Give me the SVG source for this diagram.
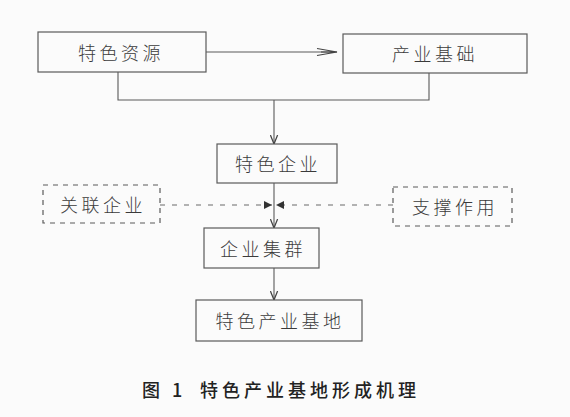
<svg xmlns="http://www.w3.org/2000/svg" width="570" height="417" viewBox="0 0 570 417">
<defs>
<style>
.box{fill:none;stroke:#5a5a5a;stroke-width:1.2}
.dbox{fill:none;stroke:#5a5a5a;stroke-width:1.2;stroke-dasharray:5 5}
.ln{fill:none;stroke:#5a5a5a;stroke-width:1.1}
.dl{fill:none;stroke:#6a6a6a;stroke-width:1.1;stroke-dasharray:5 7}
.t{font-family:"Noto Sans CJK SC","Noto Sans CJK JP",sans-serif;font-size:18px;fill:#3a3a3a;letter-spacing:3.5px;text-anchor:middle;dominant-baseline:central;font-weight:300}
.cap{font-family:"Noto Sans CJK SC",sans-serif;font-size:18px;fill:#222;letter-spacing:4px;dominant-baseline:central;font-weight:500}
</style>
<marker id="ah" viewBox="0 0 10 10" refX="10" refY="5" markerWidth="9" markerHeight="9" orient="auto" markerUnits="userSpaceOnUse">
<path d="M0,1 L10,5 L0,9" fill="none" stroke="#444" stroke-width="1.4"/>
</marker>
<marker id="ah2" viewBox="0 0 20 10" refX="20" refY="5" markerWidth="22" markerHeight="10" orient="auto" markerUnits="userSpaceOnUse">
<path d="M0,1.5 L20,5 L0,8.5 M4,5 L20,5" fill="none" stroke="#444" stroke-width="1.2"/>
</marker>
<marker id="tri" viewBox="0 0 10 10" refX="10" refY="5" markerWidth="8" markerHeight="8" orient="auto" markerUnits="userSpaceOnUse">
<path d="M0,0 L10,5 L0,10 Z" fill="#333"/>
</marker>
</defs>
<rect width="570" height="417" fill="#fbfbfb"/>
<g id="connectors">
<line class="ln" x1="206" y1="52" x2="337" y2="52" marker-end="url(#ah2)"/>
<polyline class="ln" points="118,72 118,100 429,100 429,73"/>
<line class="ln" x1="274" y1="100" x2="274" y2="144" marker-end="url(#ah)"/>
<line class="ln" x1="274" y1="183" x2="274" y2="228" marker-end="url(#ah)"/>
<line class="ln" x1="274" y1="268" x2="274" y2="300" marker-end="url(#ah)"/>
<line class="dl" x1="160" y1="205" x2="272" y2="205" marker-end="url(#tri)"/>
<line class="dl" x1="393" y1="205" x2="276" y2="205" marker-end="url(#tri)"/>
</g>
<g id="n1"><rect class="box" x="38" y="32" width="168" height="40"/><text class="t" x="121" y="52">特色资源</text></g>
<g id="n2"><rect class="box" x="343" y="34" width="184" height="39"/><text class="t" x="435" y="53">产业基础</text></g>
<g id="n3"><rect class="box" x="217" y="144" width="120" height="39"/><text class="t" x="278" y="163">特色企业</text></g>
<g id="n4"><rect class="dbox" x="43" y="185" width="117" height="38"/><text class="t" x="103" y="204">关联企业</text></g>
<g id="n5"><rect class="dbox" x="393" y="187" width="119" height="39"/><text class="t" x="455" y="206">支撑作用</text></g>
<g id="n6"><rect class="box" x="204" y="228" width="115" height="40"/><text class="t" x="263" y="248">企业集群</text></g>
<g id="n7"><rect class="box" x="196" y="300" width="166" height="41"/><text class="t" x="280" y="320">特色产业基地</text></g>
<g id="caption"><text class="cap" x="142" y="389">图 1</text><text class="cap" x="200" y="389">特色产业基地形成机理</text></g>
</svg>
